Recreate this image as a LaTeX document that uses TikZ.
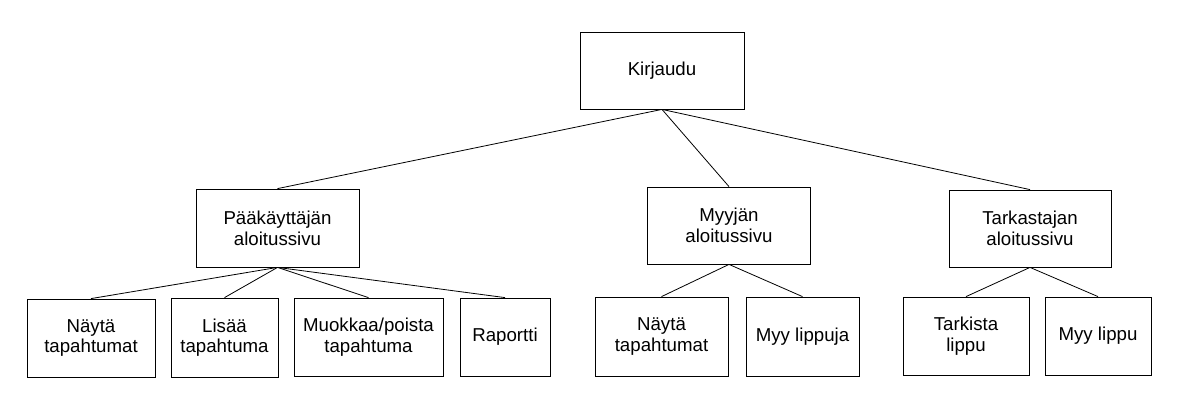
\documentclass[tikz,border=0pt]{standalone}
\usepackage{fontspec}
\setmainfont{Liberation Sans}
\begin{document}
\begin{tikzpicture}[x=0.75pt, y=-0.75pt, line width=0.6pt,
  every node/.style={font=\fontsize{14}{15.5}\selectfont},
  box/.style={draw, align=center, inner sep=1pt},
  link/.style={line width=0.6pt}]
  \useasboundingbox (0,0) rectangle (1184,415);
  % Kirjautuminen (ylin taso)
  \node[box, minimum width=123pt, minimum height=57.75pt] (kirj) at (662,70.5) {Kirjaudu};
  % Aloitussivut
  \node[box, minimum width=122.25pt, minimum height=58.5pt] (paak) at (277.5,228) {Pääkäyttäjän\\aloitussivu};
  \node[box, minimum width=122.25pt, minimum height=57.75pt] (myyja) at (729,225.5) {Myyjän\\aloitussivu};
  \node[box, minimum width=121.5pt, minimum height=57.75pt] (tark) at (1030,228.5) {Tarkastajan\\aloitussivu};
  % Pääkäyttäjän toiminnot
  \node[box, minimum width=96pt, minimum height=58.5pt] (pnayta) at (91,338) {Näytä\\tapahtumat};
  \node[box, minimum width=80.25pt, minimum height=59.25pt] (plisaa) at (224.5,337.5) {Lisää\\tapahtuma};
  \node[box, minimum width=111.75pt, minimum height=58.5pt] (pmuok) at (368.5,337) {Muokkaa/poista\\tapahtuma};
  \node[box, minimum width=67.5pt, minimum height=58.5pt] (praport) at (505,337) {Raportti};
  % Myyjän toiminnot
  \node[box, minimum width=99.75pt, minimum height=59.25pt] (mnayta) at (661.5,336.5) {Näytä\\tapahtumat};
  \node[box, minimum width=84.75pt, minimum height=59.25pt] (mmyy) at (802.5,336.5) {Myy lippuja};
  % Tarkastajan toiminnot
  \node[box, minimum width=94.5pt, minimum height=58.5pt] (ttark) at (966,336) {Tarkista\\lippu};
  \node[box, minimum width=79.5pt, minimum height=58.5pt] (tmyy) at (1098,336) {Myy lippu};
  % Yhteydet
  \draw[link] (kirj.south) -- (paak.north);
  \draw[link] (kirj.south) -- (myyja.north);
  \draw[link] (kirj.south) -- (tark.north);
  \foreach \leaf in {pnayta, plisaa, pmuok, praport}
    \draw[link] (paak.south) -- (\leaf.north);
  \foreach \leaf in {mnayta, mmyy}
    \draw[link] (myyja.south) -- (\leaf.north);
  \foreach \leaf in {ttark, tmyy}
    \draw[link] (tark.south) -- (\leaf.north);
\end{tikzpicture}
\end{document}
